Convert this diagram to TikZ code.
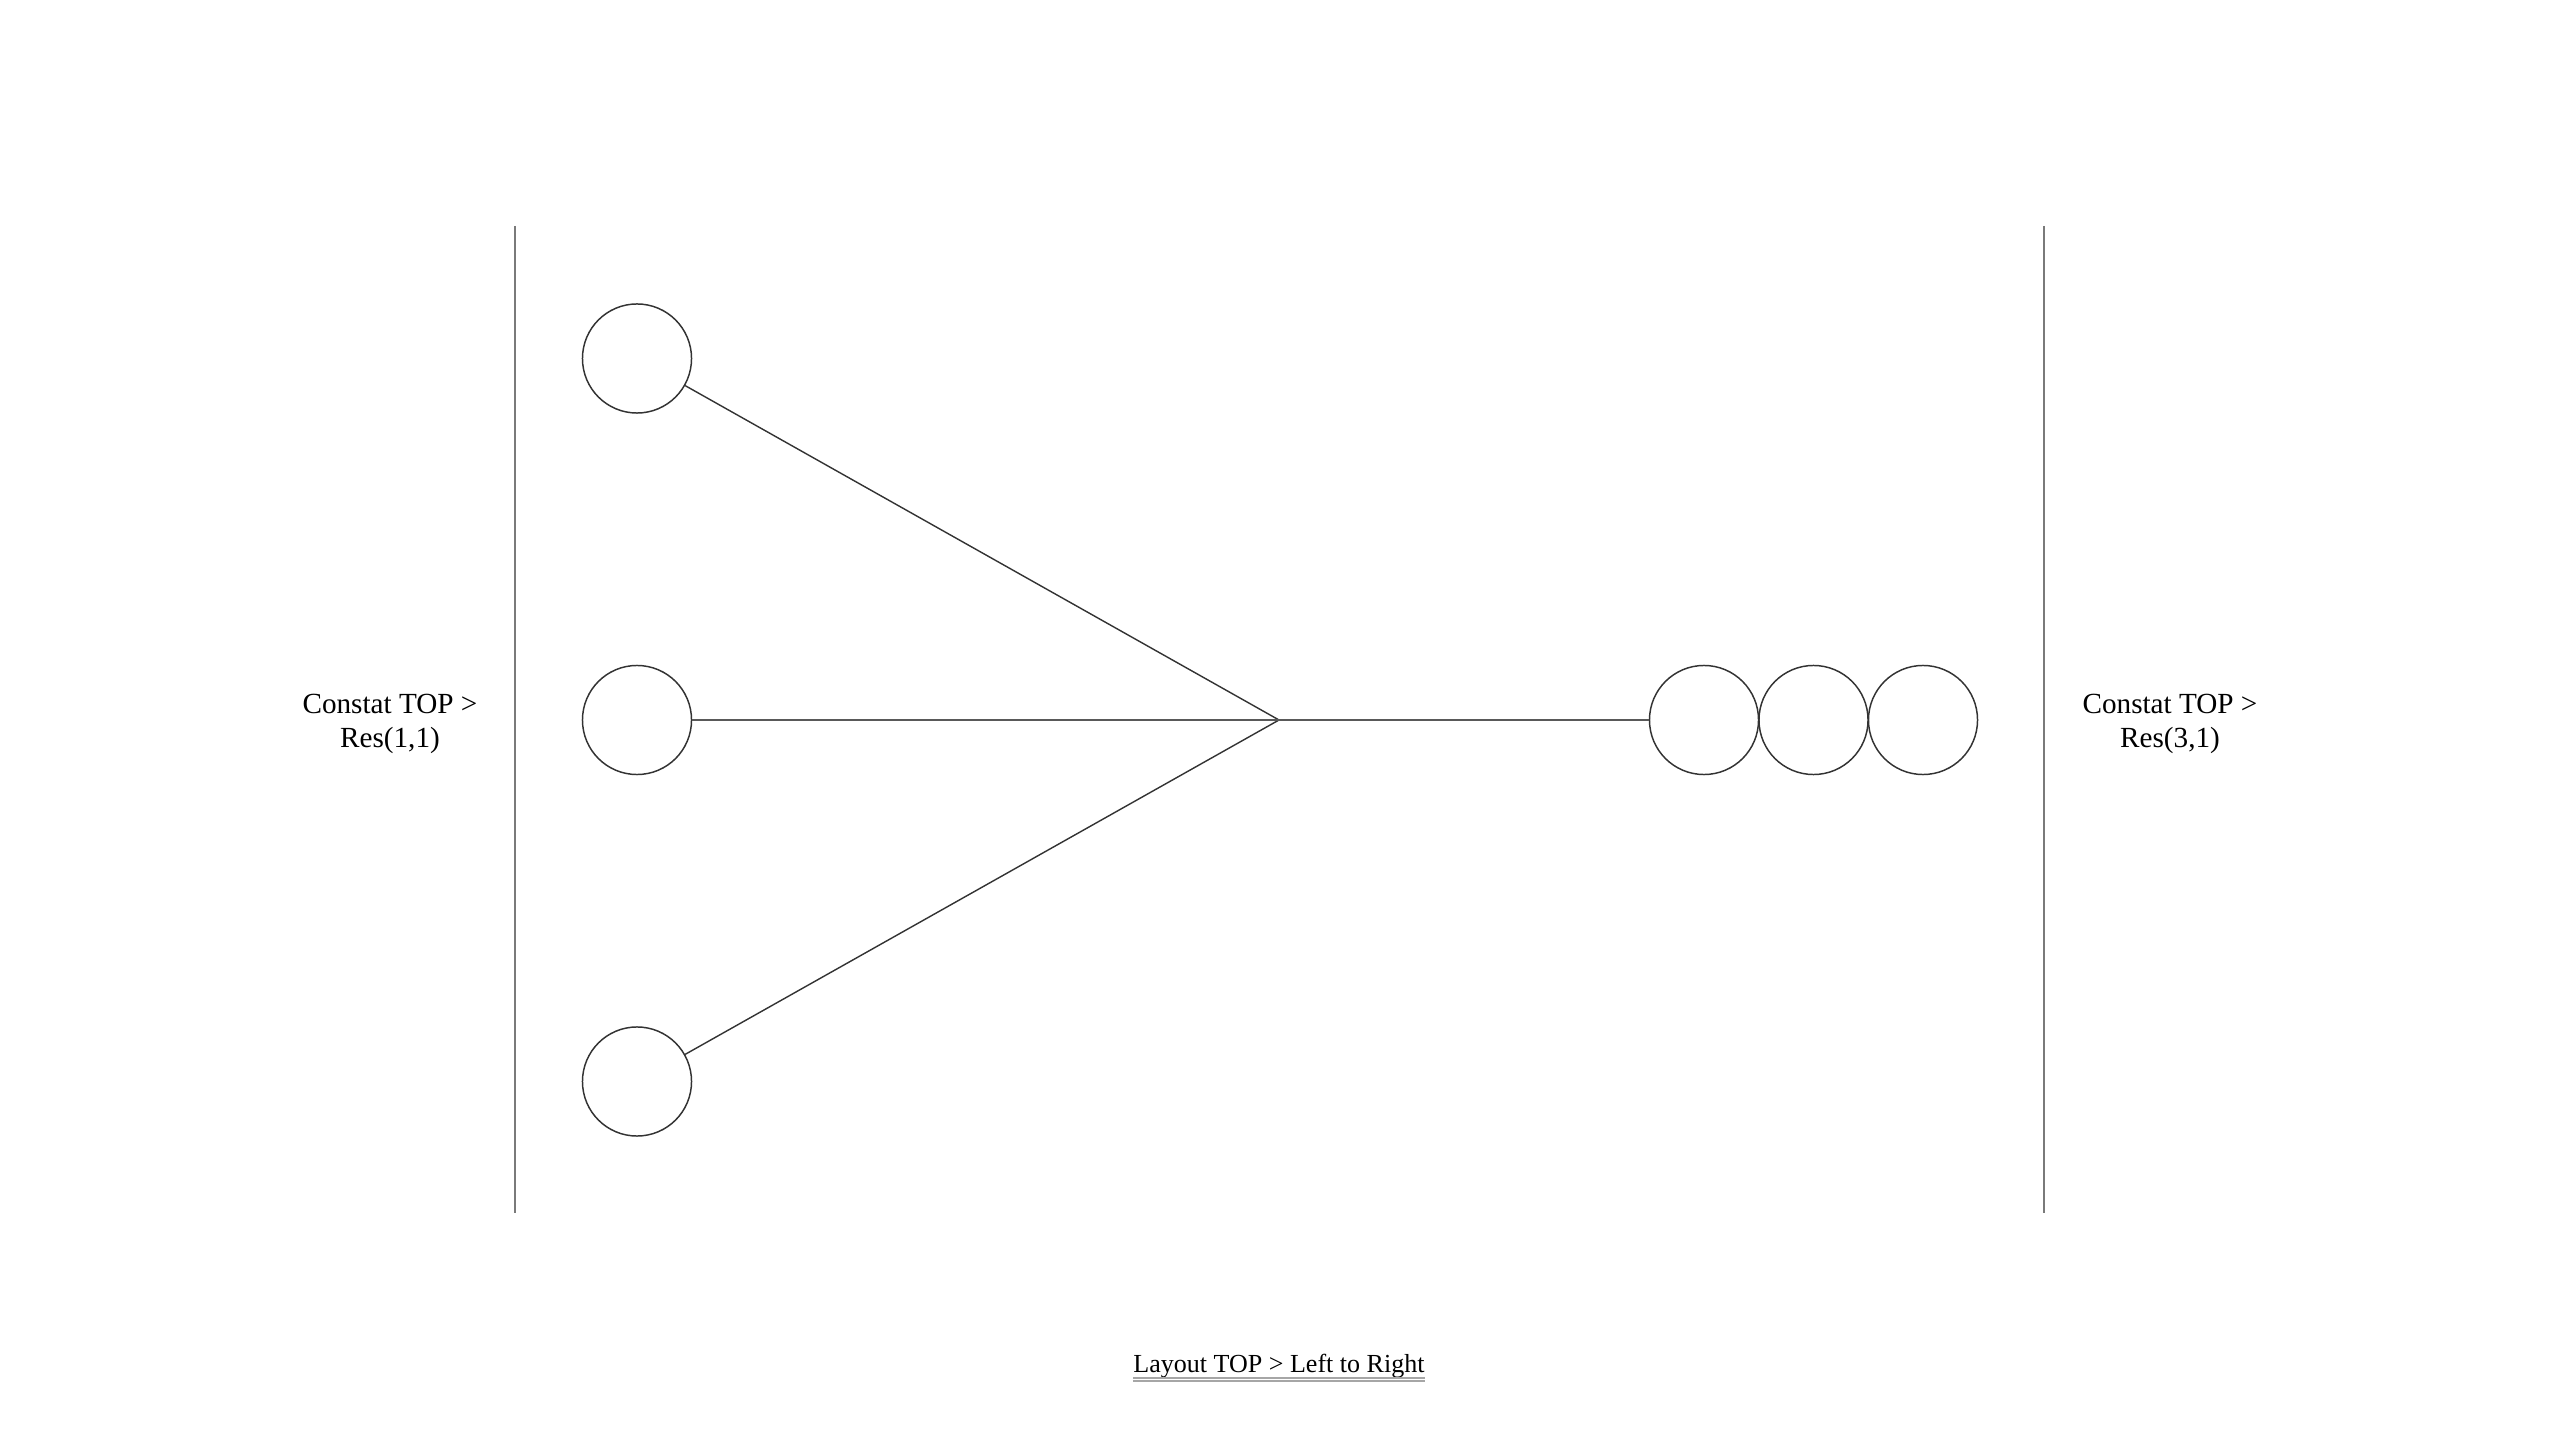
\documentclass[tikz,border=0pt]{standalone}
\usepackage{fontspec}
\setmainfont{Liberation Serif}
\begin{document}
\begin{tikzpicture}[x=0.01cm,y=-0.01cm,
  ball/.style={circle,draw=black!80,line width=0.42pt,minimum size=1.09cm,inner sep=0pt},
  wall/.style={draw=black!52,line width=0.6pt},
  link/.style={draw=black!80,line width=0.4pt},
  midlink/.style={draw=black!65,line width=0.55pt},
  sidelabel/.style={align=center,font=\fontsize{8.3}{9.7}\selectfont,inner sep=0pt},
  bottomlabel/.style={font=\fontsize{7.4}{8}\selectfont,inner sep=0pt,anchor=base},
  uline/.style={draw=black!35,line width=0.3pt}
]
\useasboundingbox (0,0) rectangle (2560,1440);
% walls
\coordinate (lt) at (515,226);
\coordinate (lb) at (515,1213);
\coordinate (rt) at (2044,226);
\coordinate (rb) at (2044,1213);
\draw[wall] (lt) -- (lb);
\draw[wall] (rt) -- (rb);
% left circles
\node[ball] (c1) at (637,358.5) {};
\node[ball] (c2) at (637,720) {};
\node[ball] (c3) at (637,1081.5) {};
% right circles
\node[ball] (r1) at (1704,720) {};
\node[ball] (r2) at (1813.5,720) {};
\node[ball] (r3) at (1923,720) {};
% junction
\coordinate (j) at (1279,720);
\draw[link] (c1) -- (j);
\draw[link] (c3) -- (j);
\draw[midlink] (c2) -- (j) -- (r1);
% labels
\node[sidelabel] (ll) at (390,724) {Constat TOP >\\Res(1,1)};
\node[sidelabel] (rl) at (2170,724) {Constat TOP >\\Res(3,1)};
\node[bottomlabel] (bt) at (1279,1372) {Layout TOP > Left to Right};
\draw[uline] ([yshift=-0.06cm]bt.base west) -- ([yshift=-0.06cm]bt.base east);
\draw[uline] ([yshift=-0.09cm]bt.base west) -- ([yshift=-0.09cm]bt.base east);
\end{tikzpicture}
\end{document}
